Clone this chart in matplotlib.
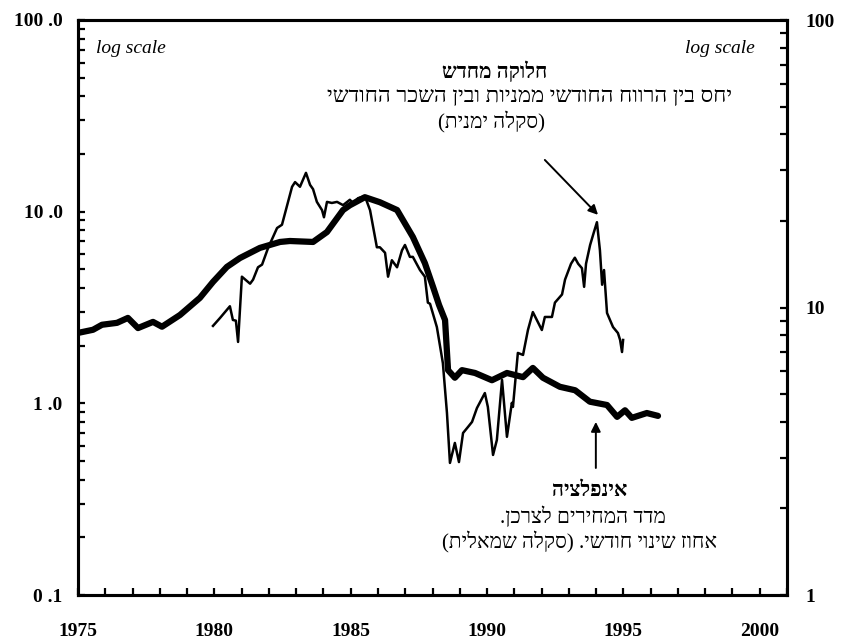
import matplotlib
matplotlib.use("Agg")
import matplotlib.pyplot as plt
from matplotlib.ticker import FixedLocator, MultipleLocator, NullFormatter

plt.rcParams['font.family'] = ['Liberation Serif', 'DejaVu Sans']

# inflation, monthly % change in CPI (left scale)
infl_years = [1975.00, 1975.55, 1975.88, 1976.43, 1976.83, 1977.20, 1977.75, 1978.08,
              1978.74, 1979.47, 1979.95, 1980.46, 1980.94, 1981.67, 1982.41, 1982.77,
              1983.62, 1984.13, 1984.72, 1984.97, 1985.52, 1986.07, 1986.70, 1987.28,
              1987.72, 1988.02, 1988.24, 1988.46, 1988.57, 1988.82, 1989.08, 1989.56,
              1990.18, 1990.73, 1991.32, 1991.68, 1992.05, 1992.67, 1993.23, 1993.77,
              1994.40, 1994.77, 1995.06, 1995.31, 1995.86, 1996.27]
infl_values = [2.33, 2.42, 2.57, 2.63, 2.79, 2.47, 2.66, 2.51,
               2.89, 3.55, 4.30, 5.15, 5.73, 6.47, 6.95, 7.03,
               6.95, 7.83, 10.2, 10.8, 11.9, 11.2, 10.2, 7.38,
               5.39, 4.05, 3.26, 2.72, 1.49, 1.36, 1.49, 1.44,
               1.32, 1.44, 1.37, 1.53, 1.36, 1.22, 1.17, 1.02,
               0.98, 0.85, 0.92, 0.84, 0.89, 0.86]

# ratio of monthly stock profit to monthly wage (right scale)
ratio_years = [1979.95, 1980.21, 1980.57, 1980.68, 1980.79, 1980.87, 1981.01, 1981.31,
               1981.42, 1981.60, 1981.75, 1981.97, 1982.30, 1982.48, 1982.85, 1982.96,
               1983.14, 1983.36, 1983.51, 1983.62, 1983.76, 1983.95, 1984.02, 1984.13,
               1984.31, 1984.50, 1984.72, 1984.97, 1985.08, 1985.27, 1985.52, 1985.71,
               1985.96, 1986.07, 1986.26, 1986.37, 1986.51, 1986.70, 1986.88, 1986.99,
               1987.17, 1987.28, 1987.54, 1987.72, 1987.83, 1987.91, 1988.16, 1988.38,
               1988.53, 1988.64, 1988.82, 1988.97, 1989.12, 1989.30, 1989.45, 1989.63,
               1989.92, 1990.03, 1990.22, 1990.36, 1990.55, 1990.73, 1990.91, 1990.95,
               1991.13, 1991.32, 1991.50, 1991.68, 1992.01, 1992.12, 1992.38, 1992.49,
               1992.75, 1992.86, 1993.08, 1993.22, 1993.34, 1993.48, 1993.56, 1993.63,
               1993.78, 1993.92, 1994.03, 1994.14, 1994.22, 1994.29, 1994.40, 1994.62,
               1994.80, 1994.88, 1994.95, 1994.99]
ratio_values = [8.63, 9.20, 10.1, 9.05, 9.0, 7.59, 12.8, 12.1,
                12.5, 13.8, 14.1, 16.1, 18.9, 19.4, 26.3, 27.3,
                26.3, 29.4, 26.7, 25.8, 23.3, 21.8, 20.6, 23.3,
                23.1, 23.3, 22.7, 23.7, 23.1, 24.0, 24.4, 21.8,
                16.2, 16.2, 15.5, 12.8, 14.6, 13.8, 15.8, 16.5,
                15.0, 15.0, 13.5, 12.8, 10.4, 10.3, 8.55, 6.41,
                4.30, 2.88, 3.38, 2.90, 3.66, 3.84, 4.00, 4.47,
                5.04, 4.51, 3.07, 3.46, 5.60, 3.55, 4.66, 4.51,
                6.95, 6.84, 8.35, 9.64, 8.35, 9.27, 9.27, 10.4,
                11.1, 12.5, 14.2, 14.9, 14.2, 13.7, 11.8, 14.2,
                16.5, 18.3, 19.8, 15.8, 12.0, 13.5, 9.57, 8.55,
                8.15, 7.71, 7.0, 7.71]

left_ticks = [0.1, 1, 10, 100]
left_labels = ['0 .1', '1 .0', '10 .0', '100 .0']
right_ticks = [1, 10, 100]
right_labels = ['1', '10', '100']
year_ticks = [1975, 1980, 1985, 1990, 1995, 2000]


def rtl(s):
    # matplotlib has no bidi: put Hebrew in visual order
    out = s[::-1]
    return out.translate(str.maketrans('()', ')('))


fig = plt.figure(figsize=(8.41, 6.42), dpi=100)
ax = fig.add_axes([78/841, 1-595/642, 709/841, 575/642])
ax2 = ax.twinx()

ax.plot(infl_years, infl_values, color='black', lw=4.5, solid_joinstyle='round',
        solid_capstyle='round')
ax2.plot(ratio_years, ratio_values, color='black', lw=1.8, solid_joinstyle='round')

ax.set_yscale('log')
ax.set_ylim(0.1, 100)
ax2.set_yscale('log')
ax2.set_ylim(1, 100)
ax.set_xlim(1975, 2001)

ax.xaxis.set_major_locator(FixedLocator(year_ticks))
ax.xaxis.set_minor_locator(MultipleLocator(1))
ax.set_xticklabels([str(y) for y in year_ticks], fontweight='bold')

ax.yaxis.set_major_locator(FixedLocator(left_ticks))
ax.set_yticklabels(left_labels, fontweight='bold')
ax.yaxis.set_minor_formatter(NullFormatter())
ax2.yaxis.set_major_locator(FixedLocator(right_ticks))
ax2.set_yticklabels(right_labels, fontweight='bold')
ax2.yaxis.set_minor_formatter(NullFormatter())

for a in (ax, ax2):
    for sp in a.spines.values():
        sp.set_linewidth(2.2)
ax.tick_params(axis='both', which='both', direction='in', length=5, width=1.6,
               labelsize=14)
ax.tick_params(axis='x', which='both', pad=20)
ax.tick_params(axis='y', which='both', pad=11)
ax.tick_params(axis='x', which='both', top=False)
ax2.tick_params(axis='y', which='both', direction='in', length=5, width=1.6,
                labelsize=14, pad=13)

ax.text(0.025, 0.95, 'log scale', transform=ax.transAxes, style='italic',
        fontsize=14, ha='left', va='center')
ax.text(0.955, 0.95, 'log scale', transform=ax.transAxes, style='italic',
        fontsize=14, ha='right', va='center')

top_lines = ['חלוקה מחדש',
             'יחס בין הרווח החודשי ממניות ובין השכר החודשי',
             '(סקלה ימנית)']
fig.text(495/841, 1-72/642, rtl(top_lines[0]), ha='center', va='center',
         fontsize=15, fontweight='bold')
fig.text(530/841, 1-97/642, rtl(top_lines[1]), ha='center', va='center', fontsize=16)
fig.text(492/841, 1-122/642, rtl(top_lines[2]), ha='center', va='center', fontsize=15)

bottom_lines = ['אינפלציה',
                'מדד המחירים לצרכן.',
                'אחוז שינוי חודשי. (סקלה שמאלית)']
fig.text(590/841, 1-491/642, rtl(bottom_lines[0]), ha='center', va='center',
         fontsize=15, fontweight='bold')
fig.text(583/841, 1-517/642, rtl(bottom_lines[1]), ha='center', va='center', fontsize=15)
fig.text(580/841, 1-542/642, rtl(bottom_lines[2]), ha='center', va='center', fontsize=15)

arrow = dict(arrowstyle='-|>', color='black', lw=1.4, mutation_scale=14,
             shrinkA=0, shrinkB=0)
ax2.annotate('', xy=(1994.07, 21.0), xytext=(1992.12, 32.6), arrowprops=arrow)
ax.annotate('', xy=(1993.99, 0.80), xytext=(1993.99, 0.46), arrowprops=arrow)

fig.savefig('out.png', dpi=100)
